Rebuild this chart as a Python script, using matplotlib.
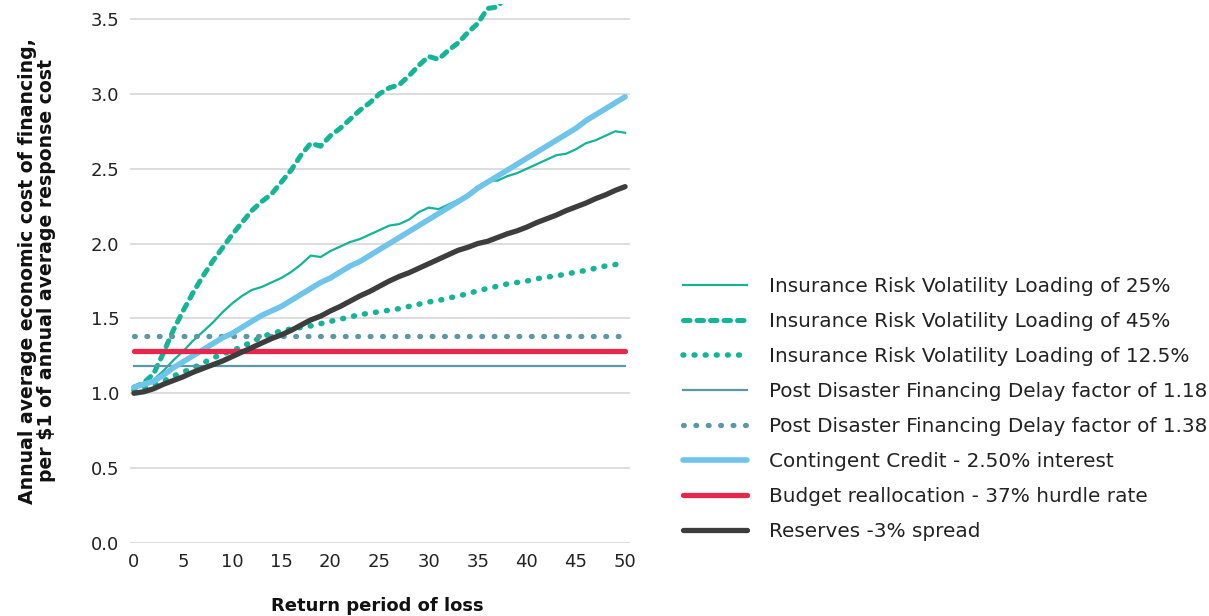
import matplotlib
matplotlib.use("Agg")
import matplotlib.pyplot as plt
import numpy as np

plt.rcParams['font.family'] = ['DejaVu Sans']

return_period = list(range(0, 51))

ins_25 = [1.04, 1.06, 1.09, 1.15, 1.22, 1.28, 1.35, 1.41, 1.47, 1.54,
          1.60, 1.65, 1.69, 1.71, 1.74, 1.77, 1.81, 1.86, 1.92, 1.91,
          1.95, 1.98, 2.01, 2.03, 2.06, 2.09, 2.12, 2.13, 2.16, 2.21,
          2.24, 2.23, 2.26, 2.29, 2.33, 2.38, 2.42, 2.42, 2.45, 2.47,
          2.50, 2.53, 2.56, 2.59, 2.60, 2.63, 2.67, 2.69, 2.72, 2.75, 2.74]

ins_45_period = list(range(0, 39))
ins_45 = [1.04, 1.07, 1.13, 1.27, 1.42, 1.55, 1.67, 1.78, 1.88, 1.97,
          2.06, 2.14, 2.22, 2.28, 2.33, 2.41, 2.49, 2.59, 2.67, 2.65,
          2.72, 2.77, 2.83, 2.89, 2.94, 3.00, 3.04, 3.06, 3.12, 3.19,
          3.25, 3.23, 3.29, 3.34, 3.41, 3.47, 3.57, 3.58, 3.66]

ins_125 = [1.02, 1.03, 1.05, 1.08, 1.115, 1.14, 1.17, 1.20, 1.235, 1.26,
           1.285, 1.31, 1.345, 1.375, 1.40, 1.415, 1.43, 1.44, 1.45, 1.465,
           1.48, 1.495, 1.51, 1.525, 1.535, 1.545, 1.555, 1.565, 1.58, 1.595,
           1.61, 1.62, 1.635, 1.65, 1.665, 1.685, 1.70, 1.715, 1.73, 1.74,
           1.75, 1.765, 1.775, 1.785, 1.795, 1.81, 1.82, 1.835, 1.85, 1.86, 1.865]

delay_118 = 1.18
delay_138 = 1.38
budget_realloc = 1.28

contingent = [1.04, 1.06, 1.08, 1.12, 1.17, 1.21, 1.25, 1.29, 1.33, 1.37,
              1.40, 1.44, 1.48, 1.52, 1.55, 1.58, 1.62, 1.66, 1.70, 1.74,
              1.77, 1.81, 1.85, 1.88, 1.92, 1.96, 2.00, 2.04, 2.08, 2.12,
              2.16, 2.20, 2.24, 2.28, 2.32, 2.37, 2.41, 2.45, 2.49, 2.53,
              2.57, 2.61, 2.65, 2.69, 2.73, 2.77, 2.82, 2.86, 2.90, 2.94, 2.98]

reserves = [1.00, 1.01, 1.03, 1.06, 1.085, 1.11, 1.14, 1.165, 1.19, 1.215,
            1.245, 1.275, 1.305, 1.335, 1.365, 1.39, 1.42, 1.455, 1.49, 1.515,
            1.55, 1.58, 1.615, 1.65, 1.68, 1.715, 1.75, 1.78, 1.805, 1.835,
            1.865, 1.895, 1.925, 1.955, 1.975, 2.00, 2.015, 2.04, 2.065, 2.085,
            2.11, 2.14, 2.165, 2.19, 2.22, 2.245, 2.27, 2.30, 2.325, 2.355, 2.38]

labels = [
    "Insurance Risk Volatility Loading of 25%",
    "Insurance Risk Volatility Loading of 45%",
    "Insurance Risk Volatility Loading of 12.5%",
    "Post Disaster Financing Delay factor of 1.18",
    "Post Disaster Financing Delay factor of 1.38",
    "Contingent Credit - 2.50% interest",
    "Budget reallocation - 37% hurdle rate",
    "Reserves -3% spread",
]

x_ticks = list(range(0, 51, 5))
y_ticks = [0.0, 0.5, 1.0, 1.5, 2.0, 2.5, 3.0, 3.5]

TEAL = "#14b497"
SLATE = "#5b97a4"
BLUE = "#6ec4ea"
RED = "#e8254b"
DARK = "#3d3d3d"

fig = plt.figure(figsize=(12.09, 6.16), dpi=100)
ax = fig.add_axes([130 / 1209, 73 / 616, 500 / 1209, 539 / 616])

xs = np.array(return_period)
ax.plot(xs, ins_25, color=TEAL, lw=1.6, label=labels[0])
ax.plot(ins_45_period, ins_45, color=TEAL, lw=3.6, linestyle=(0, (1.3, 1.4)),
        dash_capstyle='round', label=labels[1])
ax.plot(xs, ins_125, color=TEAL, lw=4.0, linestyle=(0, (0.15, 1.85)),
        dash_capstyle='round', label=labels[2])
ax.plot(xs, [delay_118] * len(xs), color=SLATE, lw=1.6, label=labels[3])
ax.plot(xs, [delay_138] * len(xs), color=SLATE, lw=3.8, linestyle=(0, (0.15, 2.2)),
        dash_capstyle='round', label=labels[4])
ax.plot(xs, contingent, color=BLUE, lw=4.0, solid_capstyle='round', label=labels[5])
ax.plot(xs, [budget_realloc] * len(xs), color=RED, lw=3.8, solid_capstyle='round', label=labels[6])
ax.plot(xs, reserves, color=DARK, lw=3.8, solid_capstyle='round', label=labels[7])

ax.set_xlim(-0.4, 50.5)
ax.set_ylim(0, 3.6)
ax.set_xticks(x_ticks)
ax.set_yticks(y_ticks)
ax.set_yticklabels([f"{v:.1f}" for v in y_ticks])
ax.grid(axis='y', color='#dadada', lw=1.3)
ax.set_axisbelow(True)
for s in ax.spines.values():
    s.set_visible(False)
ax.tick_params(axis='both', length=0, labelsize=13, labelcolor='#222222')
ax.tick_params(axis='x', pad=7)
ax.tick_params(axis='y', pad=7.5)

ax.set_xlabel("Return period of loss", fontsize=13, fontweight='bold', color='#111111')
ax.xaxis.set_label_coords(0.495, -0.1)
ax.set_ylabel("Annual average economic cost of financing,\nper $1 of annual average response cost",
              fontsize=13.6, fontweight='bold', color='#111111', linespacing=1.0)
ax.yaxis.set_label_coords(-0.148, 0.505)

fig.legend(loc='upper left', bbox_to_anchor=(683 / 1209, 0.551), frameon=False,
           fontsize=14.4, handlelength=3.2, handletextpad=1.1, labelspacing=0.8,
           borderpad=0, borderaxespad=0, labelcolor='#222222')

fig.savefig("out.png", dpi=100)
